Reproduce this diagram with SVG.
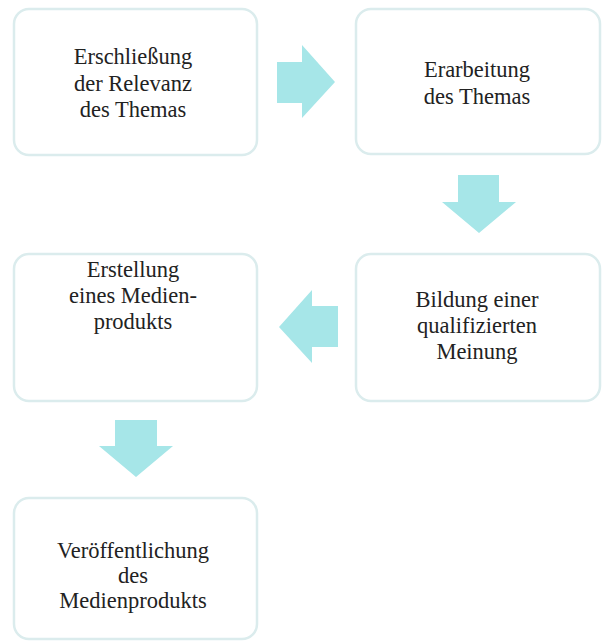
<svg xmlns="http://www.w3.org/2000/svg" width="606" height="641" viewBox="0 0 606 641">
<style>
.box{fill:#ffffff;stroke:#dbeced;stroke-width:2.5}
.t{font-family:'Liberation Serif','Times New Roman',serif;font-size:22.5px;fill:#222222;text-anchor:middle}
.arr{fill:#a6e6e8}
</style>
<rect width="606" height="641" fill="#ffffff"/>
<g id="n1">
<rect class="box" x="14" y="9" width="243" height="146" rx="15"/>
<text class="t" x="133" y="64">Erschließung</text>
<text class="t" x="133" y="91">der Relevanz</text>
<text class="t" x="133" y="117">des Themas</text>
</g>
<g id="n2">
<rect class="box" x="356" y="9" width="244" height="145" rx="15"/>
<text class="t" x="477" y="77">Erarbeitung</text>
<text class="t" x="477" y="104">des Themas</text>
</g>
<g id="n3">
<rect class="box" x="356" y="254" width="244" height="147" rx="15"/>
<text class="t" x="477" y="307">Bildung einer</text>
<text class="t" x="477" y="333">qualifizierten</text>
<text class="t" x="477" y="359">Meinung</text>
</g>
<g id="n4">
<rect class="box" x="14" y="254" width="243" height="147" rx="15"/>
<text class="t" x="133" y="277">Erstellung</text>
<text class="t" x="133" y="303">eines Medien-</text>
<text class="t" x="133" y="329">produkts</text>
</g>
<g id="n5">
<rect class="box" x="14" y="498" width="243" height="141" rx="15"/>
<text class="t" x="133" y="558">Veröffentlichung</text>
<text class="t" x="133" y="583">des</text>
<text class="t" x="133" y="608">Medienprodukts</text>
</g>
<g id="connectors">
<polygon class="arr" points="277,62 302,62 302,45 335,82 302,118 302,103 277,103"/>
<polygon class="arr" points="458,175 499,175 499,202 516,202 479,233 442,202 458,202"/>
<polygon class="arr" points="338,306 312,306 312,290 279,327 312,363 312,347 338,347"/>
<polygon class="arr" points="115,420 157,420 157,446 173,446 136,477 99,446 115,446"/>
</g>
</svg>
